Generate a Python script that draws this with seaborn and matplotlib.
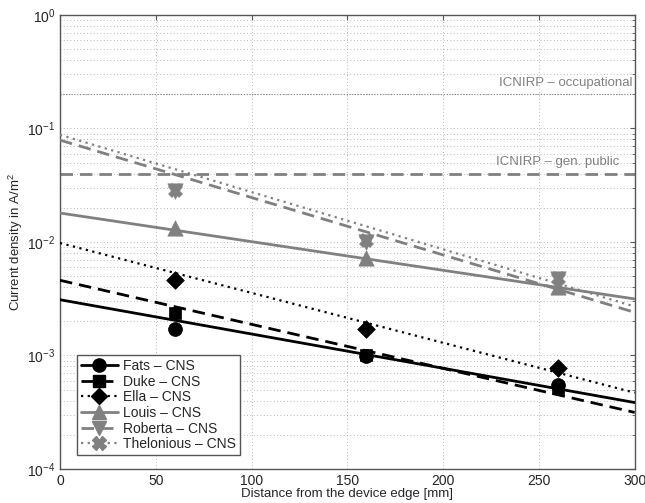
import numpy as np
import pandas as pd
import matplotlib
matplotlib.use("Agg")
import matplotlib.pyplot as plt
from matplotlib.lines import Line2D
import seaborn as sns

# measured points (distance in mm, current density in A/m^2)
distances = [60, 160, 260]
fats = [1.7e-3, 0.98e-3, 5.5e-4]
duke = [2.35e-3, 1.0e-3, 5.2e-4]
ella = [4.6e-3, 1.72e-3, 7.8e-4]
louis = [1.33e-2, 7.3e-3, 4.0e-3]
roberta = [2.8e-2, 1.0e-2, 4.7e-3]
thelonious = [2.9e-2, 1.05e-2, 4.8e-3]

# fitted exponential trends, value at 0 mm and at 300 mm
fit_x = [0, 300]
fats_fit = [3.1e-3, 3.85e-4]
duke_fit = [4.6e-3, 3.15e-4]
ella_fit = [9.8e-3, 4.7e-4]
louis_fit = [1.8e-2, 3.15e-3]
roberta_fit = [7.9e-2, 2.4e-3]
thelonious_fit = [8.8e-2, 2.7e-3]

names = ["Fats", "Duke", "Ella", "Louis", "Roberta", "Thelonious"]
limit_public = 0.04
limit_occupational = 0.2

sns.set_style("white")
plt.rcParams["font.family"] = ["Liberation Sans", "DejaVu Sans"]
plt.rcParams["mathtext.fontset"] = "custom"
plt.rcParams["mathtext.rm"] = "Liberation Sans"
plt.rcParams["mathtext.it"] = "Liberation Sans:italic"

BLACK = "#000000"
GRAY = "#808080"
DOT = (0, (1, 2))
DASH = (0, (4.5, 2.5))
styles = {
    "Fats": (BLACK, "-", "o", 10),
    "Duke": (BLACK, DASH, "s", 9),
    "Ella": (BLACK, DOT, "D", 9),
    "Louis": (GRAY, "-", "^", 11),
    "Roberta": (GRAY, DASH, "v", 11),
    "Thelonious": (GRAY, DOT, "X", 10),
}

points = pd.DataFrame({
    "name": np.repeat(names, 3),
    "x": distances * 6,
    "y": fats + duke + ella + louis + roberta + thelonious,
})
fits = pd.DataFrame({
    "name": np.repeat(names, 2),
    "x": fit_x * 6,
    "y": fats_fit + duke_fit + ella_fit + louis_fit + roberta_fit + thelonious_fit,
})

fig = plt.figure(figsize=(6.45, 5.03), dpi=100)
ax = fig.add_axes([0.093, 0.0676, 0.891, 0.9026])

# limits
ax.axhline(limit_public, color=GRAY, ls=DASH, lw=2, zorder=2)
ax.axhline(limit_occupational, color=GRAY, ls=(0, (1, 1.5)), lw=0.8, zorder=2)
ax.text(299, limit_occupational * 1.12, "ICNIRP \u2013 occupational",
        ha="right", va="bottom", color=GRAY, fontsize=9.5)
ax.text(292, limit_public * 1.12, "ICNIRP \u2013 gen. public",
        ha="right", va="bottom", color=GRAY, fontsize=9.5)

handles = []
for n in names:
    c, ls, m, ms = styles[n]
    lw = 1.6 if ls == DOT else 2
    sns.lineplot(data=fits[fits.name == n], x="x", y="y", color=c,
                 linestyle=ls, lw=lw, ax=ax, zorder=3)
    sns.scatterplot(data=points[points.name == n], x="x", y="y", color=c,
                    marker=m, s=ms ** 2, edgecolor=c, linewidth=0.5, ax=ax, zorder=4)
    handles.append(Line2D([], [], color=c, ls=ls, lw=lw, marker=m, markersize=ms * 0.95,
                          markeredgecolor=c))

ax.set_yscale("log")
ax.set_xlim(0, 300)
ax.set_ylim(1e-4, 1)
ax.set_xticks(range(0, 301, 50))
ax.grid(True, which="major", ls=(0, (1, 3)), color="#a0a0a0", lw=0.6)
ax.grid(True, which="minor", axis="y", ls=(0, (1, 3)), color="#a0a0a0", lw=0.6)
ax.tick_params(which="both", direction="in", top=True, right=True, labelsize=10,
               color="#555555")
for s in ax.spines.values():
    s.set_color("#555555")
    s.set_linewidth(1)

ax.set_xlabel("Distance from the device edge [mm]", fontsize=9.5, labelpad=0)
ax.set_ylabel("Current density in A/m$^2$", fontsize=9.5, labelpad=1)

leg = ax.legend(handles, [f"{n} \u2013 CNS" for n in names], loc="lower left",
                bbox_to_anchor=(0.03, 0.03), fontsize=10, handlelength=2.6,
                handletextpad=0.4, labelspacing=0.12, borderpad=0.3,
                borderaxespad=0, fancybox=False, framealpha=1, edgecolor="#555555")
leg.get_frame().set_linewidth(1)

fig.savefig("out.png", dpi=100)
